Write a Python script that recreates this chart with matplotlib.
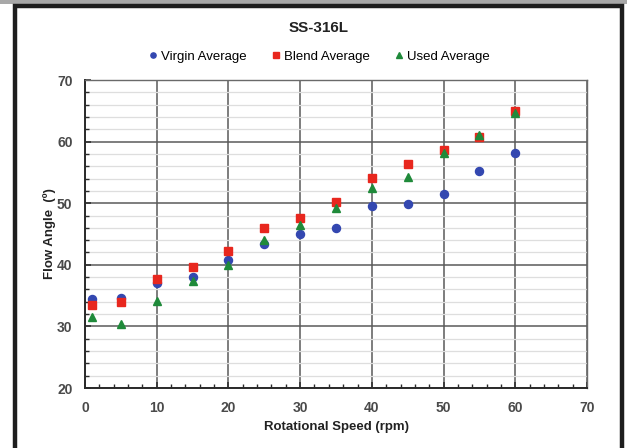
import matplotlib.pyplot as plt
from matplotlib.patches import Rectangle
from matplotlib.ticker import MultipleLocator

plt.rcParams['font.family'] = ['Liberation Sans', 'DejaVu Sans']

# rotational speed (rpm)
speed = [1, 5, 10, 15, 20, 25, 30, 35, 40, 45, 50, 55, 60]

# flow angle averages (deg)
virgin = [34.4, 34.6, 37.0, 38.0, 40.7, 43.3, 45.0, 46.0, 49.5, 49.8, 51.5, 55.2, 58.2]
blend = [33.5, 33.9, 37.7, 39.6, 42.3, 45.9, 47.6, 50.2, 54.1, 56.3, 58.6, 60.8, 64.9]
used = [31.6, 30.4, 34.1, 37.4, 39.9, 44.0, 46.5, 49.2, 52.4, 54.2, 58.2, 61.0, 64.6]

fig = plt.figure(figsize=(6.27, 4.48), dpi=100)
fig.patch.set_facecolor('white')

# outer frame like the scanned figure
fig.patches.append(Rectangle((0, 1 - 4 / 448), 1, 4 / 448, transform=fig.transFigure,
                             facecolor='#a8a8a8', edgecolor='none', zorder=0))
fig.patches.append(Rectangle((14.5 / 627, -0.05), (607.5) / 627, 1.05 - 6.5 / 448,
                             transform=fig.transFigure, facecolor='none',
                             edgecolor='#1e1e1e', linewidth=3.2, zorder=1))

ax = fig.add_axes([85 / 627, 60 / 448, 502 / 627, 308 / 448])

ax.plot(speed, virgin, 'o', color='#3347b0', markersize=5.8, label='Virgin Average', zorder=3)
ax.plot(speed, blend, 's', color='#e8271e', markersize=5.6, label='Blend Average', zorder=3)
ax.plot(speed, used, '^', color='#1f8a3a', markersize=5.8, label='Used Average', zorder=4)

ax.set_xlim(0, 70)
ax.set_ylim(20, 70)
ax.xaxis.set_major_locator(MultipleLocator(10))
ax.xaxis.set_minor_locator(MultipleLocator(2))
ax.yaxis.set_major_locator(MultipleLocator(10))
ax.yaxis.set_minor_locator(MultipleLocator(2))

ax.grid(which='minor', axis='y', color='#dedede', linewidth=0.9)
ax.grid(which='major', axis='both', color='#5a5a5a', linewidth=1.1)
ax.set_axisbelow(True)

for side in ['left', 'bottom']:
    ax.spines[side].set_color('#2a2a2a')
    ax.spines[side].set_linewidth(1.4)
for side in ['top', 'right']:
    ax.spines[side].set_color('#6a6a6a')
    ax.spines[side].set_linewidth(1.0)

ax.tick_params(which='both', direction='in', color='#2a2a2a')
ax.tick_params(which='major', length=4, width=1.1)
ax.tick_params(which='minor', length=3, width=1.0)
ax.tick_params(axis='y', pad=9)
ax.tick_params(axis='x', pad=9)
for lab in ax.get_xticklabels() + ax.get_yticklabels():
    lab.set_fontsize(10)
    lab.set_fontweight('bold')
    lab.set_color('#4a4a4a')

ax.set_xlabel('Rotational Speed (rpm)', fontsize=9.5, fontweight='bold', color='#222222', labelpad=5)
ax.set_ylabel('Flow Angle  (º)', fontsize=9.5, fontweight='bold', color='#222222', labelpad=1)

fig.text(319 / 627, 1 - 28 / 448, 'SS-316L', ha='center', va='center',
         fontsize=11, fontweight='bold', color='#222222')

fig.legend(loc='center', bbox_to_anchor=(318 / 627, 1 - 57 / 448), ncol=3,
           frameon=False, fontsize=9.5, handletextpad=0.1, columnspacing=1.7,
           markerscale=0.65, handlelength=1.0)

fig.savefig('out.png', dpi=100)
